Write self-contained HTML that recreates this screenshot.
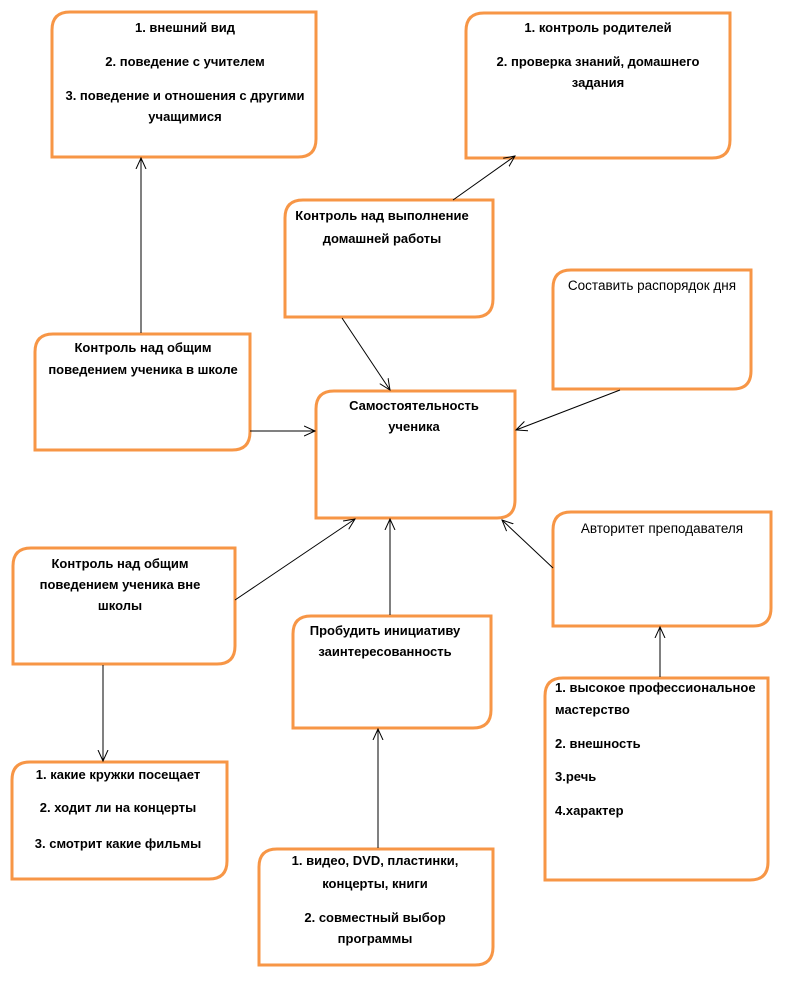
<!DOCTYPE html>
<html><head><meta charset="utf-8"><style>
html,body{margin:0;padding:0;background:#fff;}
svg{display:block;}
text{font-family:"Liberation Sans","DejaVu Sans",sans-serif;font-size:13px;font-weight:bold;fill:#000;}
.b{fill:none;stroke:#f79646;stroke-width:3;}
.l{stroke:#000;stroke-width:1;fill:none;}
</style></head><body>
<svg width="786" height="981" viewBox="0 0 786 981" xmlns="http://www.w3.org/2000/svg">
<defs>
<marker id="a" markerWidth="12" markerHeight="12" refX="11" refY="6" orient="auto" markerUnits="userSpaceOnUse">
<path d="M0,1 L11,6 L0,11" fill="none" stroke="#000" stroke-width="1"/>
</marker>
</defs>
<g class="b">
<path d="M70,12 H316 V139 Q316,157 298,157 H52 V30 Q52,12 70,12 Z"/>
<path d="M484,13 H730 V140 Q730,158 712,158 H466 V31 Q466,13 484,13 Z"/>
<path d="M303,200 H493 V299 Q493,317 475,317 H285 V218 Q285,200 303,200 Z"/>
<path d="M571,270 H751 V371 Q751,389 733,389 H553 V288 Q553,270 571,270 Z"/>
<path d="M53,334 H250 V432 Q250,450 232,450 H35 V352 Q35,334 53,334 Z"/>
<path d="M334,391 H515 V500 Q515,518 497,518 H316 V409 Q316,391 334,391 Z"/>
<path d="M31,548 H235 V646 Q235,664 217,664 H13 V566 Q13,548 31,548 Z"/>
<path d="M571,512 H771 V608 Q771,626 753,626 H553 V530 Q553,512 571,512 Z"/>
<path d="M311,616 H491 V710 Q491,728 473,728 H293 V634 Q293,616 311,616 Z"/>
<path d="M30,762 H227 V861 Q227,879 209,879 H12 V780 Q12,762 30,762 Z"/>
<path d="M277,849 H493 V947 Q493,965 475,965 H259 V867 Q259,849 277,849 Z"/>
<path d="M563,678 H768 V862 Q768,880 750,880 H545 V696 Q545,678 563,678 Z"/>
</g>
<g class="l">
<line x1="141" y1="333" x2="141" y2="158" marker-end="url(#a)"/>
<line x1="453" y1="200" x2="515" y2="156" marker-end="url(#a)"/>
<line x1="342" y1="318" x2="390" y2="390" marker-end="url(#a)"/>
<line x1="620" y1="390" x2="516" y2="430" marker-end="url(#a)"/>
<line x1="250" y1="431" x2="315" y2="431" marker-end="url(#a)"/>
<line x1="235" y1="600" x2="355" y2="519" marker-end="url(#a)"/>
<line x1="390" y1="615" x2="390" y2="519" marker-end="url(#a)"/>
<line x1="553" y1="568" x2="502" y2="520" marker-end="url(#a)"/>
<line x1="660" y1="677" x2="660" y2="627" marker-end="url(#a)"/>
<line x1="103" y1="665" x2="103" y2="761" marker-end="url(#a)"/>
<line x1="378" y1="848" x2="378" y2="729" marker-end="url(#a)"/>
</g>
<g text-anchor="middle">
<text x="185" y="32">1. внешний вид</text>
<text x="185" y="66">2. поведение с учителем</text>
<text x="185" y="100">3. поведение и отношения с другими</text>
<text x="185" y="121">учащимися</text>

<text x="598" y="32">1. контроль родителей</text>
<text x="598" y="66">2. проверка знаний, домашнего</text>
<text x="598" y="87">задания</text>

<text x="382" y="220">Контроль над выполнение</text>
<text x="382" y="243">домашней работы</text>

<text x="652" y="290" style="font-weight:normal;font-size:13.5px">Составить распорядок дня</text>

<text x="143" y="352">Контроль над общим</text>
<text x="143" y="374">поведением ученика в школе</text>

<text x="414" y="410">Самостоятельность</text>
<text x="414" y="431">ученика</text>

<text x="120" y="568">Контроль над общим</text>
<text x="120" y="589">поведением ученика вне</text>
<text x="120" y="610">школы</text>

<text x="662" y="533" style="font-weight:normal;font-size:13.5px">Авторитет преподавателя</text>

<text x="385" y="635">Пробудить инициативу</text>
<text x="385" y="656">заинтересованность</text>

<text x="118" y="779">1. какие кружки посещает</text>
<text x="118" y="812">2. ходит ли на концерты</text>
<text x="118" y="848">3. смотрит какие фильмы</text>

<text x="375" y="865">1. видео, DVD, пластинки,</text>
<text x="375" y="888">концерты, книги</text>
<text x="375" y="922">2. совместный выбор</text>
<text x="375" y="943">программы</text>
</g>
<g text-anchor="start">
<text x="555" y="692">1. высокое профессиональное</text>
<text x="555" y="714">мастерство</text>
<text x="555" y="748">2. внешность</text>
<text x="555" y="781">3.речь</text>
<text x="555" y="815">4.характер</text>
</g>
</svg>
</body></html>
